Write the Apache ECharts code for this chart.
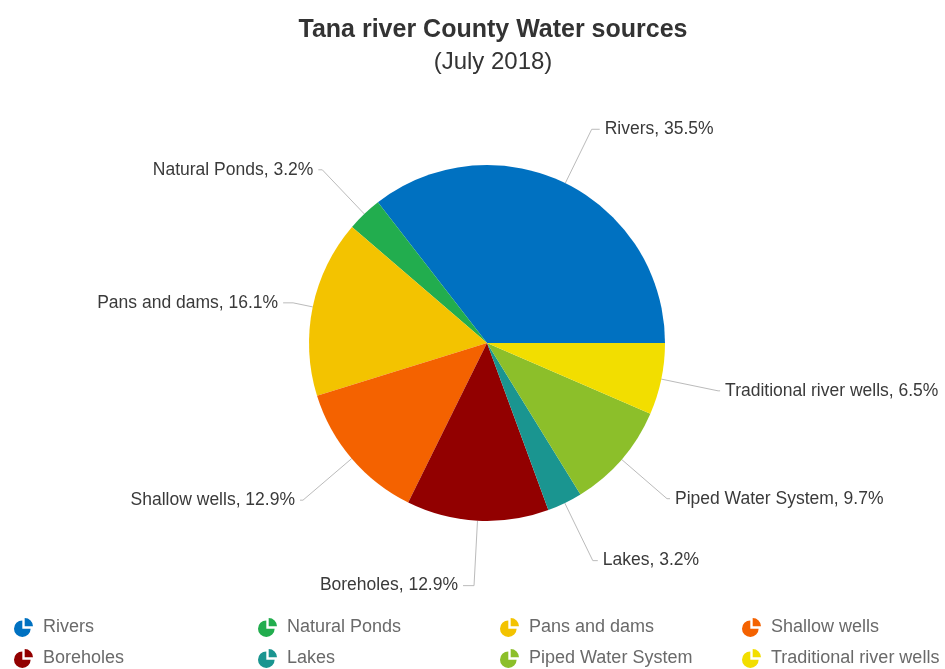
<!DOCTYPE html>
<html>
<head>
<meta charset="utf-8">
<script src="https://cdn.jsdelivr.net/npm/echarts@6/dist/echarts.min.js"></script>
<style>
  html, body { margin: 0; padding: 0; background: #fff; }
  #main { width: 945px; height: 669px; }
</style>
</head>
<body>
<div id="main"></div>
<script>
// water sources, share in percent
var categories = ['Rivers', 'Natural Ponds', 'Pans and dams', 'Shallow wells',
  'Boreholes', 'Lakes', 'Piped Water System', 'Traditional river wells'];
var shares = [35.5, 3.2, 16.1, 12.9, 12.9, 3.2, 9.7, 6.5];
var colors = ['#0071c1', '#22ad4e', '#f3c300', '#f46200', '#920000', '#1a9590', '#8cbf2a', '#f2de00'];

// connector lengths per slice (radial, horizontal)
var lineLen = [60, 61, 20, 64, 65, 64, 60, 58];
var lineLen2 = [8, 4, 10, 3, 11, 5, 3, 2];

var pieIcon = 'path://M7 9L7 2A7 7 0 1 0 14 9Z M9 7L9 0A7 7 0 0 1 16 7Z';
var font = "'Liberation Sans', Arial, sans-serif";

var chart = echarts.init(document.getElementById('main'), null, { renderer: 'canvas' });

var pieData = categories.map(function (name, i) {
  return {
    name: name,
    value: shares[i],
    itemStyle: { color: colors[i] },
    labelLine: { length: lineLen[i], length2: lineLen2[i] }
  };
});

// legend split into 4 columns of 2 rows
var legendLeft = [14, 258, 500, 742];
var legends = legendLeft.map(function (x, c) {
  return {
    orient: 'vertical',
    left: x,
    top: 618,
    padding: 0,
    itemWidth: 29,
    itemHeight: 19,
    itemGap: 12,
    icon: pieIcon,
    data: [categories[c], categories[c + 4]],
    textStyle: { fontFamily: font, fontSize: 18, color: '#6a6a6a' }
  };
});

var option = {
  backgroundColor: '#fff',
  animation: false,
  title: {
    text: 'Tana river County Water sources',
    subtext: '(July 2018)',
    left: 488,
    textAlign: 'center',
    top: 13,
    itemGap: 7,
    textStyle: { fontFamily: font, fontSize: 25, fontWeight: 'bold', color: '#333' },
    subtextStyle: { fontFamily: font, fontSize: 24, color: '#333' }
  },
  legend: legends,
  series: [{
    type: 'pie',
    center: [487, 343],
    radius: 178,
    startAngle: 0,
    clockwise: false,
    avoidLabelOverlap: false,
    label: {
      show: true,
      fontFamily: font,
      fontSize: 17.5,
      color: '#3a3a3a',
      formatter: function (p) { return p.name + ', ' + p.value.toFixed(1) + '%'; }
    },
    labelLine: { lineStyle: { color: '#bbb', width: 1 }, smooth: false },
    data: pieData
  }]
};

chart.setOption(option);
</script>
</body>
</html>
